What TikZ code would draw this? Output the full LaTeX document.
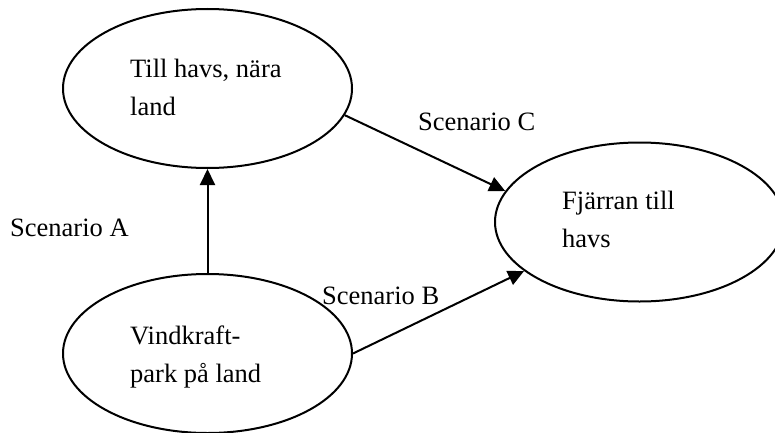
\documentclass[tikz,border=0pt]{standalone}
\usepackage{fontspec}
\setmainfont{Liberation Serif}
\usetikzlibrary{arrows.meta,shapes.geometric}
\begin{document}
\begin{tikzpicture}[x=1pt,y=1pt,
  oval/.style={draw,line width=2pt,ellipse,minimum width=289pt,minimum height=159pt,inner sep=0pt},
  txt/.style={anchor=base west,inner sep=0pt,align=left,font=\fontsize{26.5}{38}\selectfont},
  conn/.style={line width=2pt,-{Triangle[length=16pt,width=15pt]}}]
\useasboundingbox (0,0) rectangle (775,432);
\node[oval] (top) at (207.5,343.5) {};
\node[oval] (far) at (639.5,210) {};
\node[oval] (bot) at (207.5,78.5) {};
\node[txt] (ttop) at (130,317) {Till havs, nära\\land};
\node[txt] (tfar) at (562,185) {Fjärran till\\havs};
\node[txt] (tbot) at (130,50) {Vindkraft-\\park på land};
\node[txt] (la) at (10,196) {Scenario A};
\node[txt] (lb) at (322,128) {Scenario B};
\node[txt] (lc) at (418,302) {Scenario C};
\draw[conn] (bot.north) -- (top.south);
\draw[conn] (top.-11) -- (far.167);
\draw[conn] (bot.0) -- (far.203);
\end{tikzpicture}
\end{document}
